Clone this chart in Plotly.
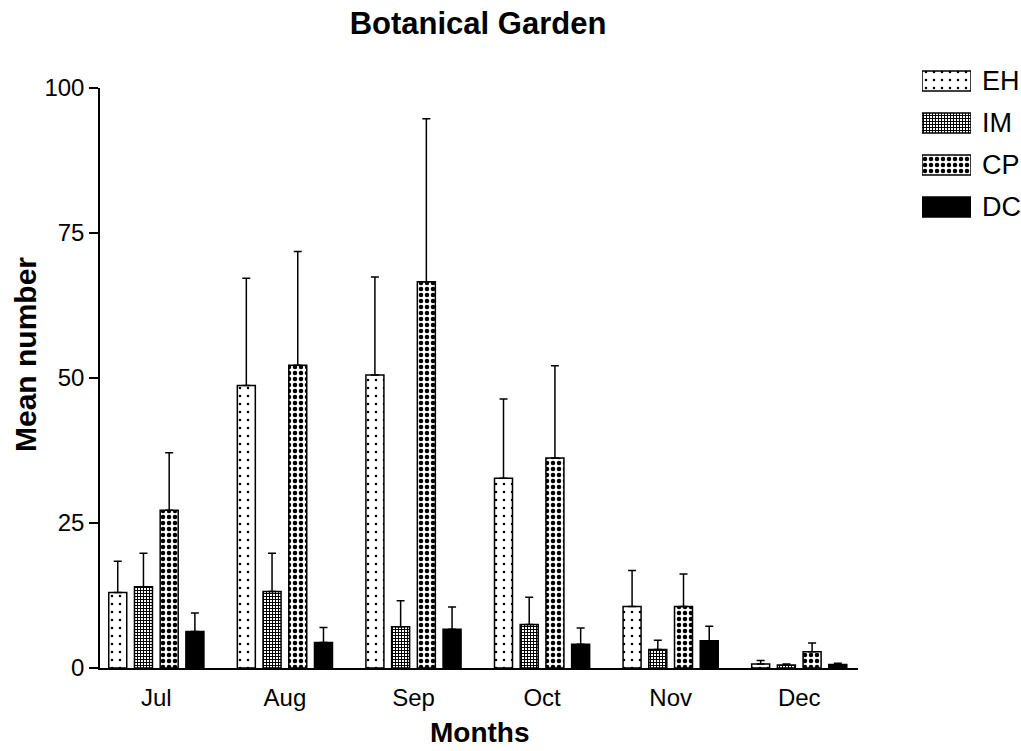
import plotly.graph_objects as go

months = ["Jul", "Aug", "Sep", "Oct", "Nov", "Dec"]
series = ["EH", "IM", "CP", "DC"]

eh_mean = [13.0, 48.7, 50.5, 32.7, 10.6, 0.7]
eh_err = [5.4, 18.5, 16.9, 13.7, 6.2, 0.6]
im_mean = [14.0, 13.2, 7.1, 7.5, 3.2, 0.5]
im_err = [5.8, 6.6, 4.5, 4.7, 1.6, 0.2]
cp_mean = [27.2, 52.2, 66.6, 36.2, 10.6, 2.8]
cp_err = [9.9, 19.6, 28.1, 15.9, 5.6, 1.5]
dc_mean = [6.3, 4.4, 6.7, 4.1, 4.7, 0.6]
dc_err = [3.2, 2.6, 3.8, 2.8, 2.5, 0.2]

y_ticks = [0, 25, 50, 75, 100]

FONT = "Liberation Sans, Arial, sans-serif"

styles = {
    "EH": dict(shape=".", size=8, solidity=0.08, color="white"),
    "IM": dict(shape="+", size=3, solidity=0.55, color="white"),
    "CP": dict(shape=".", size=6, solidity=0.45, color="white"),
    "DC": dict(shape="", size=8, solidity=0.3, color="black"),
}

data = {"EH": (eh_mean, eh_err), "IM": (im_mean, im_err),
        "CP": (cp_mean, cp_err), "DC": (dc_mean, dc_err)}


def marker_for(name):
    st = styles[name]
    return dict(color=st["color"],
                line=dict(color="black", width=1.5),
                pattern=dict(shape=st["shape"], size=st["size"],
                             solidity=st["solidity"], fgcolor="black",
                             bgcolor=st["color"], fillmode="replace"))


fig = go.Figure()
for name in series:
    m, e = data[name]
    fig.add_trace(go.Bar(
        x=months, y=m, name=name, showlegend=False,
        marker=marker_for(name),
        error_y=dict(type="data", symmetric=False, array=e,
                     arrayminus=[0] * len(e), color="black",
                     thickness=1.5, width=4),
        xaxis="x", yaxis="y",
    ))

# legend swatches drawn as a small bar subplot (one bar per series)
for name in series:
    fig.add_trace(go.Bar(
        y=[name], x=[1], orientation="h", width=0.48, offset=-0.24,
        showlegend=False, hoverinfo="skip",
        marker=marker_for(name),
        xaxis="x2", yaxis="y2",
    ))

W, H = 1021, 751
L, R, T, B = 100, 6, 55, 83
pw = W - L - R
ph = H - T - B

fig.update_layout(
    width=W, height=H,
    margin=dict(l=L, r=R, t=T, b=B, autoexpand=False),
    paper_bgcolor="white", plot_bgcolor="white",
    barmode="group", bargap=0.2, bargroupgap=0.3,
    font=dict(family=FONT, color="black", size=24),
    title=dict(text="<b>Botanical Garden</b>", x=478 / W, xref="container",
               xanchor="center", y=1 - 23 / H, yref="container", yanchor="middle",
               font=dict(family=FONT, size=31, color="black")),
    xaxis=dict(domain=[0, (858 - L) / pw], range=[-0.438, 5.457],
               showline=True, linecolor="black", linewidth=1.5, automargin=False,
               ticks="", showgrid=False, zeroline=False, ticklabelstandoff=7,
               tickfont=dict(size=24, family=FONT), anchor="y"),
    yaxis=dict(domain=[0, (668 - 88) / ph], range=[0, 100], automargin=False,
               tickvals=y_ticks, ticks="outside", ticklen=9, tickwidth=1.5,
               tickcolor="black", showline=True, linecolor="black",
               linewidth=1.5, showgrid=False, zeroline=False,
               tickfont=dict(size=24, family=FONT), anchor="x"),
    xaxis2=dict(domain=[(922 - L) / pw, (971 - L) / pw], range=[0, 1],
                visible=False, anchor="y2", automargin=False),
    yaxis2=dict(domain=[(668 - 228) / ph, (668 - 60) / ph],
                range=[3.5, -0.5], side="right", anchor="x2", automargin=False,
                showline=False, ticks="", showgrid=False, zeroline=False,
                ticklabelstandoff=10,
                tickfont=dict(size=27, family=FONT)),
    annotations=[
        dict(text="<b>Mean number</b>", xref="paper", yref="paper",
             x=(25 - L) / pw, y=(668 - 355) / ph, textangle=-90,
             showarrow=False, xanchor="center", yanchor="middle",
             font=dict(size=30, family=FONT, color="black")),
        dict(text="<b>Months</b>", xref="paper", yref="paper",
             x=(480 - L) / pw, y=(668 - 733) / ph,
             showarrow=False, xanchor="center", yanchor="middle",
             font=dict(size=28, family=FONT, color="black")),
    ],
)

fig.write_html("out.html", config={"displayModeBar": False},
               post_script="document.body.style.margin='0px';")
